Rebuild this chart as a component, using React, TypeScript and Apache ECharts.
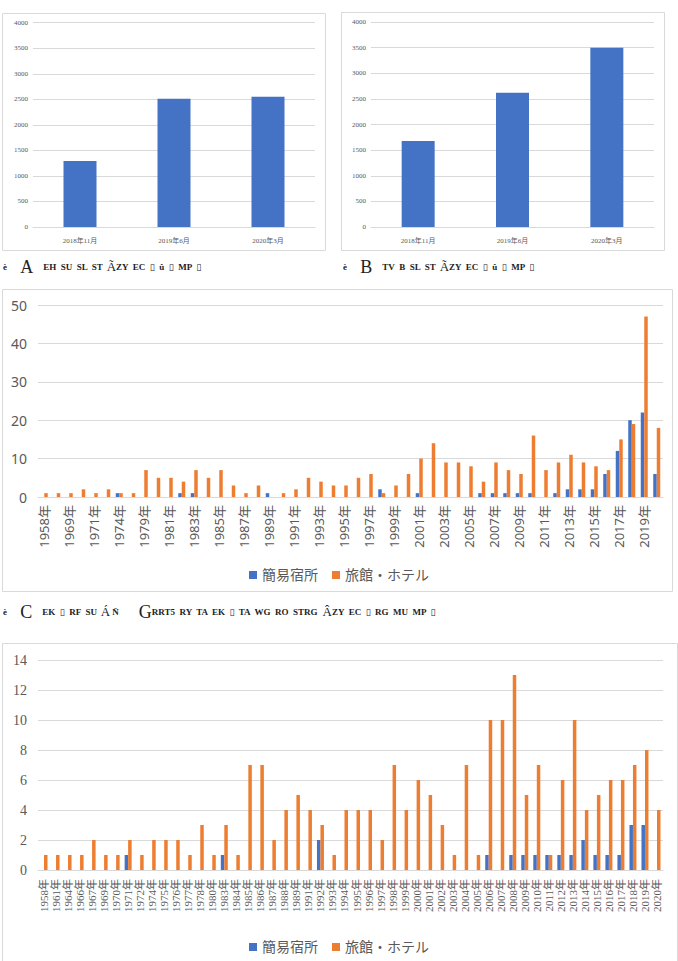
import React, { useEffect, useRef } from "react";
import * as echarts from "echarts";

const TOP_CATS = ["2018年11月", "2019年6月", "2020年3月"];
const A_VALUES = [1290, 2510, 2550];
const B_VALUES = [1680, 2620, 3500];

const MID_YEARS = [
  "1958年", "1964年", "1969年", "1970年", "1971年", "1972年", "1974年", "1976年",
  "1979年", "1980年", "1981年", "1982年", "1983年", "1984年", "1985年", "1986年",
  "1987年", "1988年", "1989年", "1990年", "1991年", "1992年", "1993年", "1994年",
  "1995年", "1996年", "1997年", "1998年", "1999年", "2000年", "2001年", "2002年",
  "2003年", "2004年", "2005年", "2006年", "2007年", "2008年", "2009年", "2010年",
  "2011年", "2012年", "2013年", "2014年", "2015年", "2016年", "2017年", "2018年",
  "2019年", "2020年",
];
const MID_KANI = [
  0, 0, 0, 0, 0, 0, 1, 0, 0, 0, 0, 1, 1, 0, 0, 0, 0, 0, 1, 0, 0, 0, 0, 0,
  0, 0, 0, 2, 0, 0, 1, 0, 0, 0, 0, 1, 1, 1, 1, 1, 0, 1, 2, 2, 2, 6, 12, 20, 22, 6,
];
const MID_RYOKAN = [
  1, 1, 1, 2, 1, 2, 1, 1, 7, 5, 5, 4, 7, 5, 7, 3, 1, 3, 0, 1, 2, 5, 4, 3,
  3, 5, 6, 1, 3, 6, 10, 14, 9, 9, 8, 4, 9, 7, 6, 16, 7, 9, 11, 9, 8, 7, 15, 19, 47, 18,
];

const BOT_YEARS = [
  "1958年", "1961年", "1964年", "1966年", "1967年", "1969年", "1970年", "1971年",
  "1972年", "1974年", "1975年", "1976年", "1977年", "1978年", "1980年", "1983年",
  "1984年", "1985年", "1986年", "1987年", "1988年", "1989年", "1991年", "1992年",
  "1993年", "1994年", "1995年", "1996年", "1997年", "1998年", "1999年", "2000年",
  "2001年", "2002年", "2003年", "2004年", "2005年", "2006年", "2007年", "2008年",
  "2009年", "2010年", "2011年", "2012年", "2013年", "2014年", "2015年", "2016年",
  "2017年", "2018年", "2019年", "2020年",
];
const BOT_KANI = [
  0, 0, 0, 0, 0, 0, 0, 1, 0, 0, 0, 0, 0, 0, 0, 1, 0, 0, 0, 0, 0, 0, 0, 2, 0,
  0, 0, 0, 0, 0, 0, 0, 0, 0, 0, 0, 0, 1, 0, 1, 1, 1, 1, 1, 1, 2, 1, 1, 1, 3, 3, 0,
];
const BOT_RYOKAN = [
  1, 1, 1, 1, 2, 1, 1, 2, 1, 2, 2, 2, 1, 3, 1, 3, 1, 7, 7, 2, 4, 5, 4, 3, 1,
  4, 4, 4, 2, 7, 4, 6, 5, 3, 1, 7, 1, 10, 10, 13, 5, 7, 1, 6, 10, 4, 5, 6, 6, 7, 8, 4,
];

const SERIES_NAMES = ["簡易宿所", "旅館・ホテル"];

const BLUE = "#4472C4";
const ORANGE = "#ED7D31";
const GRID = "#d9d9d9";
const TXT = "#595959";
const SERIF = "'Liberation Serif', 'DejaVu Serif', 'Noto Sans CJK JP', serif";
const SANS = "'Noto Sans', 'Noto Sans CJK JP', sans-serif";

export default function App() {
  const ref = useRef<HTMLDivElement>(null);
  useEffect(() => {
    if (!ref.current) return;
    const chart = echarts.init(ref.current, undefined, { renderer: "svg" });

    const catAxis = (gridIndex: number, data: string[], extra: any) => ({
      type: "category",
      gridIndex,
      data,
      axisLine: { lineStyle: { color: GRID } },
      axisTick: { show: false },
      ...extra,
    });
    const valAxis = (gridIndex: number, max: number, interval: number, extra: any) => ({
      type: "value",
      gridIndex,
      min: 0,
      max,
      interval,
      axisLine: { show: false },
      axisTick: { show: false },
      splitLine: { lineStyle: { color: GRID } },
      ...extra,
    });

    const capRich = {
      s: { fontSize: 9, fontWeight: "bold", fontFamily: SERIF, fill: "#222" },
      b: { fontSize: 18, fontFamily: SERIF, fill: "#222" },
      m: { fontSize: 13, fontFamily: SERIF, fill: "#222" },
    };
    const plain = (v: number) => String(v);

    chart.setOption({
      animation: false,
      backgroundColor: "#fff",
      grid: [
        { left: 33, top: 22.7, width: 282, height: 204.3 },
        { left: 371, top: 22, width: 283, height: 205 },
        { left: 38, top: 305, width: 625, height: 192 },
        { left: 38, top: 660, width: 625, height: 210 },
      ],
      xAxis: [
        catAxis(0, TOP_CATS, { axisLabel: { fontSize: 7, color: TXT, margin: 10, fontFamily: SERIF } }),
        catAxis(1, TOP_CATS, { axisLabel: { fontSize: 7, color: TXT, margin: 10, fontFamily: SERIF } }),
        catAxis(2, MID_YEARS, {
          axisLabel: { fontSize: 13, color: TXT, rotate: 90, interval: 1, margin: 8, fontFamily: SANS },
        }),
        catAxis(3, BOT_YEARS, {
          axisLabel: { fontSize: 11, color: TXT, rotate: 90, interval: 0, margin: 9, fontFamily: SERIF },
        }),
      ],
      yAxis: [
        valAxis(0, 4000, 500, { axisLabel: { fontSize: 7, color: TXT, margin: 5, fontFamily: SERIF, formatter: plain } }),
        valAxis(1, 4000, 500, { axisLabel: { fontSize: 7, color: TXT, margin: 5, fontFamily: SERIF, formatter: plain } }),
        valAxis(2, 50, 10, { axisLabel: { fontSize: 14, color: TXT, margin: 11, fontFamily: SANS } }),
        valAxis(3, 14, 2, { axisLabel: { fontSize: 14, color: TXT, margin: 11, fontFamily: SERIF } }),
      ],
      legend: [
        {
          data: SERIES_NAMES,
          top: 563,
          left: "center",
          icon: "rect",
          itemWidth: 8,
          itemHeight: 8,
          itemGap: 14,
          textStyle: { fontSize: 14, color: TXT, fontFamily: SERIF },
        },
        {
          data: SERIES_NAMES,
          top: 935,
          left: "center",
          icon: "rect",
          itemWidth: 8,
          itemHeight: 8,
          itemGap: 14,
          textStyle: { fontSize: 14, color: TXT, fontFamily: SERIF },
        },
      ],
      series: [
        { type: "bar", name: "A", xAxisIndex: 0, yAxisIndex: 0, data: A_VALUES, barWidth: 33, itemStyle: { color: BLUE } },
        { type: "bar", name: "B", xAxisIndex: 1, yAxisIndex: 1, data: B_VALUES, barWidth: 33, itemStyle: { color: BLUE } },
        { type: "bar", name: SERIES_NAMES[0], xAxisIndex: 2, yAxisIndex: 2, data: MID_KANI, barWidth: 3.5, barGap: "0%", itemStyle: { color: BLUE } },
        { type: "bar", name: SERIES_NAMES[1], xAxisIndex: 2, yAxisIndex: 2, data: MID_RYOKAN, barWidth: 3.5, barGap: "0%", itemStyle: { color: ORANGE } },
        { type: "bar", name: SERIES_NAMES[0], xAxisIndex: 3, yAxisIndex: 3, data: BOT_KANI, barWidth: 3.5, barGap: "0%", itemStyle: { color: BLUE } },
        { type: "bar", name: SERIES_NAMES[1], xAxisIndex: 3, yAxisIndex: 3, data: BOT_RYOKAN, barWidth: 3.5, barGap: "0%", itemStyle: { color: ORANGE } },
      ],
      graphic: [
        { type: "rect", shape: { x: 2.5, y: 13.5, width: 323, height: 237 }, style: { fill: "none", stroke: GRID, lineWidth: 1 }, z: -1 },
        { type: "rect", shape: { x: 341.5, y: 12.5, width: 323, height: 238 }, style: { fill: "none", stroke: GRID, lineWidth: 1 }, z: -1 },
        { type: "rect", shape: { x: 2.5, y: 289.5, width: 670, height: 302 }, style: { fill: "none", stroke: GRID, lineWidth: 1 }, z: -1 },
        { type: "rect", shape: { x: 2.5, y: 643.5, width: 675, height: 330 }, style: { fill: "none", stroke: GRID, lineWidth: 1 }, z: -1 },
        {
          type: "text",
          left: 3,
          top: 258,
          style: { text: "{s|è}    {b|A}   {s|EH  SU  SL  ST} {m|Ã}{s|ZY  EC  ▯  û  ▯  MP  ▯}", rich: capRich },
        },
        {
          type: "text",
          left: 343,
          top: 258,
          style: { text: "{s|è}    {b|B}   {s|TV  B  SL  ST} {m|Ã}{s|ZY  EC  ▯  û  ▯  MP  ▯}", rich: capRich },
        },
        {
          type: "text",
          left: 3,
          top: 603,
          style: {
            text: "{s|è}    {b|C}   {s|EK  ▯  RF  SU} {m|Á}{s| Ñ}      {b|G}{s|RRT5  RY  TA  EK  ▯  TA  WG  RO  STRG} {m|Â}{s|ZY  EC  ▯  RG  MU  MP  ▯}",
            rich: capRich,
          },
        },
      ],
    });
    return () => chart.dispose();
  }, []);
  return (
    <div
      ref={ref}
      style={{ position: "absolute", left: 0, top: 0, width: 678, height: 961, background: "#fff" }}
    />
  );
}
